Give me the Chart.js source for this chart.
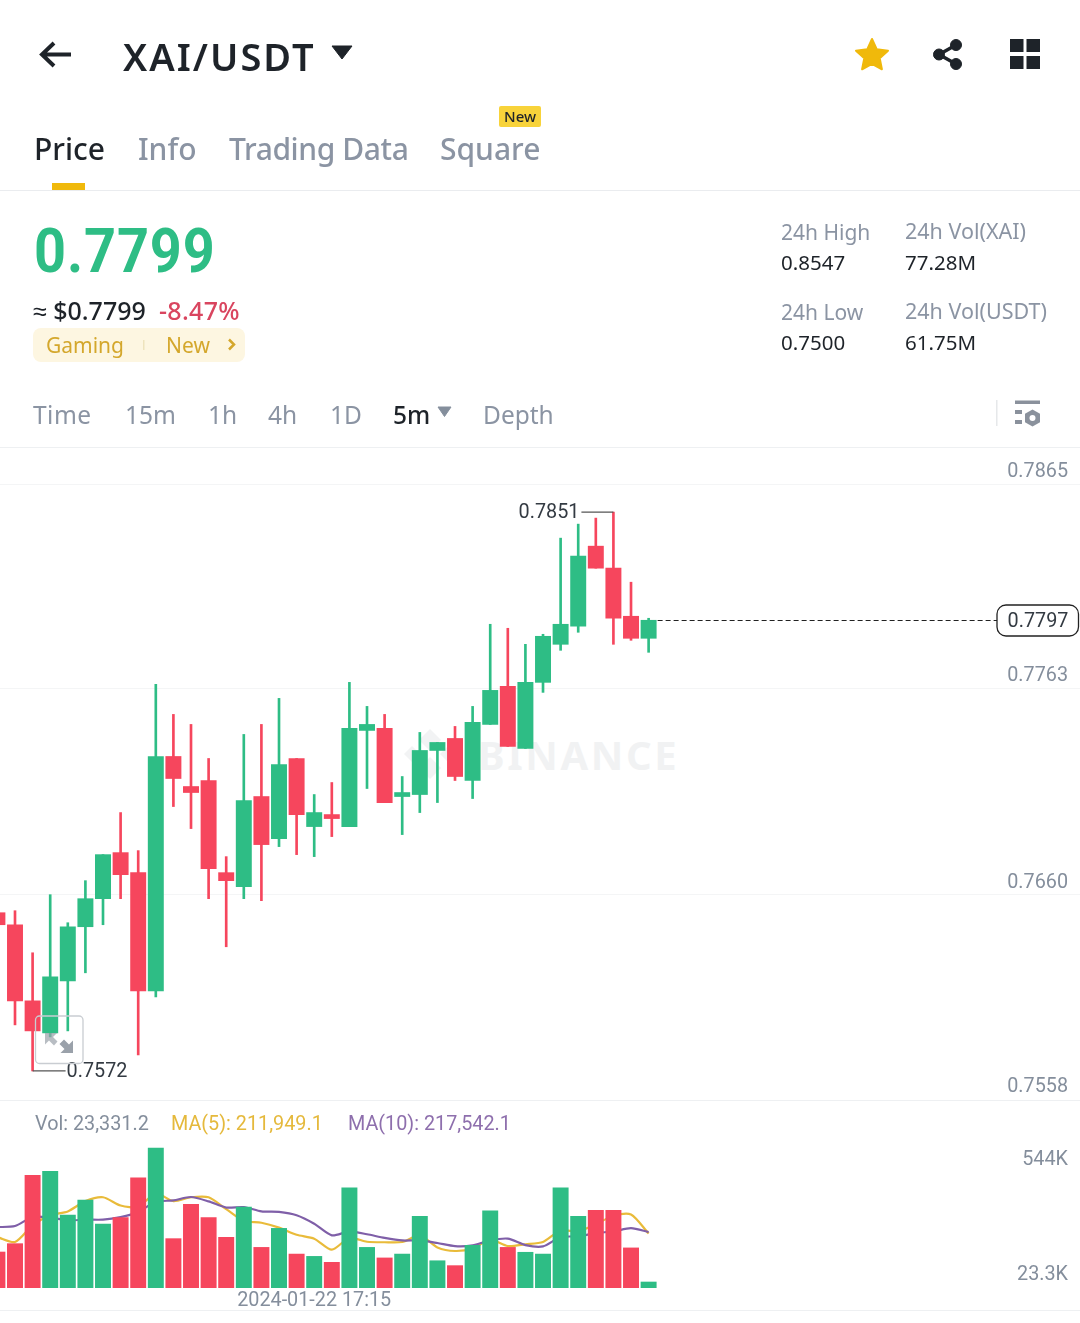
<!DOCTYPE html>
<html><head><meta charset="utf-8">
<script src="https://cdn.jsdelivr.net/npm/chart.js@4"></script>
<style>
html,body{margin:0;padding:0;background:#fff}
#root{position:relative;width:1080px;height:1323px;background:#fff;overflow:hidden}
.t{position:absolute;white-space:nowrap;line-height:1;transform:translateY(-50%);font-family:'Noto Sans',sans-serif}
.r{font-family:Roboto,sans-serif}
.g{color:#8b94a3}.d{color:#1e2329}
.hl{position:absolute;left:0;width:1080px;height:1px;background:#eef0f2}
canvas{position:absolute;left:0}
svg{position:absolute;left:0;top:0}
</style></head><body><div id="root">

<div class="hl" style="top:190px;background:#eaecef"></div>
<div class="hl" style="top:447px"></div>
<div class="hl" style="top:1100px"></div>
<div class="hl" style="top:1310px"></div>

<!-- watermark -->
<svg width="1080" height="1323" style="z-index:0">
 <g fill="#f2f3f4"><path d="M430 729l11 11-11 11-11-11z"/><path d="M412 746l8 8-8 8-8-8z"/><path d="M448 746l8 8-8 8-8-8z"/><path d="M430 757l11 11-11 11-11-11z"/></g>
</svg>
<span class="t" style="z-index:0;left:478px;top:755px;font-weight:700;font-size:40px;letter-spacing:2.6px;color:#f1f2f3">BINANCE</span>

<canvas id="priceChart" width="1080" height="652" style="top:447px;z-index:1"></canvas>
<canvas id="volChart" width="1080" height="223" style="top:1100px;z-index:1"></canvas>

<svg width="1080" height="1323" style="z-index:2;pointer-events:none">
 <!-- back arrow -->
 <path d="M71 54.500H42M54 43L42 54.500 54 66" fill="none" stroke="#1e2329" stroke-width="4"/>
 <path d="M332 46h20l-10 13z" fill="#1e2329" stroke="#1e2329" stroke-width="1" stroke-linejoin="round"/>
 <!-- star -->
 <path d="M872 39l4.800 10.300 11.200 1.400-8.300 7.600 2.200 11-9.900-5.500-9.900 5.500 2.200-11-8.300-7.600 11.200-1.400z" fill="#f0b90b" stroke="#f0b90b" stroke-width="2" stroke-linejoin="round"/>
 <!-- share -->
 <g fill="#1e2329" stroke="#1e2329"><circle cx="956" cy="45" r="5.500"/><circle cx="939" cy="54.500" r="5.500"/><circle cx="956" cy="64" r="5.500"/><path d="M956 45L939 54.500 956 64" fill="none" stroke-width="3.500"/></g>
 <!-- grid -->
 <g fill="#1e2329"><rect x="1010" y="39" width="13.500" height="13"/><rect x="1026.500" y="39" width="13.500" height="13"/><rect x="1010" y="56" width="13.500" height="13"/><rect x="1026.500" y="56" width="13.500" height="13"/></g>
 <!-- tab underline -->
 <rect x="52" y="183" width="33" height="7" fill="#f0b90b"/>
 <!-- badge -->
 <rect x="499" y="106" width="42" height="21" rx="2" fill="#f8d33a"/>
 <!-- tag -->
 <rect x="33" y="328" width="212" height="34" rx="8" fill="#fdf6e1"/>
 <rect x="143" y="340" width="1.500" height="10" fill="#eee3bd"/>
 <path d="M229 339.500l5 5-5 5" fill="none" stroke="#d4a72c" stroke-width="2.500"/>
 <!-- interval caret -->
 <path d="M438 407h13l-6.500 9.500z" fill="#848e9c" stroke="#848e9c" stroke-width="1" stroke-linejoin="round"/>
 <!-- settings -->
 <rect x="996" y="400" width="1.500" height="26" fill="#e6e8ea"/>
 <g fill="#8a919c"><rect x="1015" y="400.500" width="25" height="3.500"/><rect x="1015" y="410" width="7" height="4"/><rect x="1015" y="420" width="7" height="4"/>
 <path d="M1032.500 409.500l7.500 4.300v8.400l-7.500 4.300-7.500-4.300v-8.400z"/><circle cx="1032.500" cy="418" r="3" fill="#fff"/></g>
 <!-- expand icon -->
 <rect x="35.500" y="1016" width="47.500" height="47.500" rx="4" fill="none" stroke="#c9cdd2" stroke-width="1.300"/>
 <path d="M73 1053H60.500l4-4-5-5 4.500-4.500 5 5 4-4z" fill="#9aa1aa"/>
 <path d="M45 1033h12l-4 4 4.500 4.500-3.500 4-5-5-4 4z" fill="#9aa1aa" opacity=".7"/>
</svg>

<div style="position:absolute;left:0;top:0;z-index:3">
<span class="t d" style="left:123px;top:56px;font-size:38px;font-weight:600;letter-spacing:2px">XAI/USDT</span>
<span class="t d" style="left:34px;top:149px;font-size:30px;font-weight:500">Price</span>
<span class="t g" style="left:138px;top:149px;font-size:30px;font-weight:500">Info</span>
<span class="t g" style="left:229px;top:149px;font-size:30px;font-weight:500;letter-spacing:-.4px">Trading Data</span>
<span class="t g" style="left:440px;top:149px;font-size:30px;font-weight:500">Square</span>
<span class="t d" style="left:504px;top:116px;font-size:15px;font-weight:500">New</span>
<span class="t" style="left:34px;top:251px;font-size:62px;font-weight:700;font-family:Roboto;color:#2ebd85;letter-spacing:1px;transform:translateY(-50%) scaleX(.9);transform-origin:left center">0.7799</span>
<span class="t d" style="left:33px;top:310px;font-size:25px;font-weight:500">≈ $0.7799</span>
<span class="t" style="left:159px;top:310px;font-size:25px;font-weight:500;color:#d9455f;letter-spacing:.3px">-8.47%</span>
<span class="t" style="left:46px;top:345px;font-size:21px;color:#d4a72c">Gaming</span>
<span class="t" style="left:166px;top:345px;font-size:21px;color:#d4a72c">New</span>
<span class="t g" style="left:781px;top:232px;font-size:21px">24h High</span>
<span class="t d" style="left:781px;top:262px;font-size:20.500px">0.8547</span>
<span class="t g" style="left:905px;top:231px;font-size:21.500px">24h Vol(XAI)</span>
<span class="t d" style="left:905px;top:262px;font-size:20.500px">77.28M</span>
<span class="t g" style="left:781px;top:312px;font-size:21px">24h Low</span>
<span class="t d" style="left:781px;top:342px;font-size:20.500px">0.7500</span>
<span class="t g" style="left:905px;top:311px;font-size:21.500px">24h Vol(USDT)</span>
<span class="t d" style="left:905px;top:342px;font-size:20.500px">61.75M</span>
<span class="t g" style="left:33px;top:415px;font-size:24.500px;letter-spacing:.5px">Time</span>
<span class="t g" style="left:125px;top:415px;font-size:24.500px">15m</span>
<span class="t g" style="left:208px;top:415px;font-size:24.500px">1h</span>
<span class="t g" style="left:268px;top:415px;font-size:24.500px">4h</span>
<span class="t g" style="left:330px;top:415px;font-size:24.500px">1D</span>
<span class="t d" style="left:393px;top:415px;font-size:24.500px;font-weight:500">5m</span>
<span class="t g" style="left:483px;top:415px;font-size:24.500px">Depth</span>
<span class="t r" style="left:35px;top:1124px;font-size:19.800px;color:#848e9c">Vol: 23,331.2</span>
<span class="t r" style="left:171px;top:1124px;font-size:19.800px;color:#e5b93c">MA(5): 211,949.1</span>
<span class="t r" style="left:348px;top:1124px;font-size:19.800px;color:#8e6fad">MA(10): 217,542.1</span>
</div>

<script>
const times = ["15:45","15:50","15:55","16:00","16:05","16:10","16:15","16:20","16:25","16:30","16:35","16:40","16:45","16:50","16:55","17:00","17:05","17:10","17:15","17:20","17:25","17:30","17:35","17:40","17:45","17:50","17:55","18:00","18:05","18:10","18:15","18:20","18:25","18:30","18:35","18:40","18:45","18:50"];
const opens  = [.7651,.7645,.7607,.7591,.7617,.7644,.7658,.7681,.7671,.7612,.7729,.7714,.7717,.7671,.7664,.7709,.7688,.7728,.7694,.7700,.7694,.7742,.7743,.7709,.7710,.7732,.7738,.7717,.7745,.7764,.7733,.7766,.7785,.7794,.7834,.7823,.7799,.7788];
const closes = [.7645,.7607,.7592,.7619,.7644,.7658,.7680,.7670,.7612,.7729,.7718,.7711,.7673,.7667,.7707,.7685,.7725,.7700,.7701,.7698,.7743,.7745,.7706,.7711,.7732,.7736,.7719,.7746,.7762,.7734,.7766,.7789,.7795,.7829,.7823,.7798,.7788,.7797];
const highs  = [.7654,.7652,.7631,.7660,.7646,.7667,.7680,.7701,.7682,.7765,.7750,.7745,.7728,.7679,.7740,.7745,.7758,.7728,.7710,.7716,.7766,.7754,.7750,.7719,.7741,.7736,.7744,.7754,.7795,.7793,.7785,.7790,.7838,.7845,.7848,.7851,.7816,.7798];
const lows   = [.7642,.7595,.7572,.7589,.7592,.7621,.7645,.7658,.7580,.7609,.7704,.7693,.7658,.7634,.7658,.7657,.7684,.7680,.7679,.7689,.7694,.7713,.7706,.7690,.7701,.7706,.7717,.7708,.7745,.7734,.7733,.7761,.7782,.7791,.7823,.7785,.7787,.7781];
const volumes = [140,172.5,438,454,284,342,249,274,429,544,192,325.5,274,197,315,158,232,132,123,100,390,158,117,132,279,106,87,166,300,158,139,132,390,279,302,302,156,23.3];
const ma5  = [198,179,244,283,298,338,353,321,316,368,338,353,353,307,261,254,235,207,192,149,195,180,178,179,205,158,144,154,188,163,170,179,224,220,248,281,286,211.9];
const ma10 = [237,241,276,274,263,266,266,276,296,335,341,354,337,313,315,298,296,283,250,205,220,209,195,185,185,175,163,166,185,192,167,162,198,201,214,220,233,217.5];
const priceTicks = [0.7865,0.7763,0.7660,0.7558];
const volTicks = [544,23.3];
const volTickLabels = ["544K","23.3K"];
const dateLabel = "2024-01-22";
const timeTickIndex = 18;

const GREEN="#2ebd85", RED="#f6465d", GRID="#f4f5f6", LABEL="#848e9c";
const up = i => closes[i] >= opens[i];
const barColor = c => up(c.dataIndex) ? GREEN : RED;
const xRange = {type:"linear",min:0.1477,max:61.51,offset:false};
const xBase = {...xRange,
  afterBuildTicks:s=>{s.ticks=[{value:timeTickIndex}]},
  border:{display:false},
  grid:{color:GRID,drawTicks:false}
};
const fitY = s=>{s.width=0;s.paddingTop=0;s.paddingBottom=0};
const commonOpts = {responsive:false,animation:false,devicePixelRatio:1,
  layout:{padding:0,autoPadding:false},plugins:{legend:{display:false},tooltip:{enabled:false}}};

const overlay = {
  id:"overlay",
  afterDatasetsDraw(chart){
    const {ctx,scales:{x,y}}=chart;
    ctx.save();
    ctx.font="19.8px Roboto";ctx.textBaseline="middle";
    // high marker
    const hiV=Math.max(...highs),hiI=highs.indexOf(hiV),hx=x.getPixelForValue(hiI),hy=y.getPixelForValue(hiV);
    ctx.strokeStyle="#555";ctx.lineWidth=1.3;ctx.beginPath();ctx.moveTo(hx,hy);ctx.lineTo(hx-32,hy);ctx.stroke();
    ctx.fillStyle="#333a42";ctx.textAlign="right";ctx.fillText(hiV.toFixed(4),hx-34,hy+1);
    // low marker
    const loV=Math.min(...lows),loI=lows.indexOf(loV),lx=x.getPixelForValue(loI),ly=y.getPixelForValue(loV);
    ctx.beginPath();ctx.moveTo(lx,ly);ctx.lineTo(lx+33,ly);ctx.stroke();
    ctx.textAlign="left";ctx.fillText(loV.toFixed(4),lx+34,ly+1);
    // last price line + box
    const last=closes[closes.length-1],ey=Math.round(y.getPixelForValue(last))+.5,ex=x.getPixelForValue(closes.length-1)+9;
    ctx.strokeStyle="#222";ctx.lineWidth=1;ctx.setLineDash([5,3]);ctx.beginPath();ctx.moveTo(ex,ey);ctx.lineTo(997,ey);ctx.stroke();ctx.setLineDash([]);
    ctx.fillStyle="#fff";ctx.lineWidth=1.3;ctx.beginPath();ctx.roundRect(997,ey-15.5,81.5,31,9);ctx.fill();ctx.stroke();
    ctx.fillStyle="#333a42";ctx.textAlign="center";ctx.fillText(last.toFixed(4),1038,ey+2);
    ctx.restore();
  }
};

new Chart(document.getElementById("priceChart"),{
  type:"bar",
  plugins:[overlay],
  data:{datasets:[
    {label:"wick",grouped:false,barThickness:2,order:2,backgroundColor:barColor,
     data:times.map((t,i)=>({x:i,y:[lows[i],highs[i]]}))},
    {label:"body",grouped:false,barThickness:15.3,order:1,backgroundColor:barColor,
     data:times.map((t,i)=>({x:i,y:[opens[i],closes[i]]}))}
  ]},
  options:{...commonOpts,
    scales:{
      x:{...xBase,ticks:{display:false}},
      y:{type:"linear",position:"right",min:0.7558,max:0.78835,
        afterFit:fitY,
        afterBuildTicks:s=>{s.ticks=priceTicks.map(v=>({value:v}))},
        border:{display:false},grid:{color:GRID,drawTicks:false},
        ticks:{mirror:true,align:"near",padding:-12,color:LABEL,font:{family:"Roboto",size:19.8,lineHeight:"24px"},
          callback:v=>[Number(v).toFixed(4),""]}}
    }}
});

new Chart(document.getElementById("volChart"),{
  type:"bar",
  data:{datasets:[
    {type:"bar",label:"Vol",grouped:false,barThickness:15.3,order:1,backgroundColor:barColor,
     data:volumes.map((v,i)=>({x:i,y:v}))},
    {type:"line",label:"MA(5)",order:3,borderColor:"#e9bb3a",borderWidth:2.2,pointRadius:0,tension:.25,
     data:ma5.map((v,i)=>({x:i,y:v}))},
    {type:"line",label:"MA(10)",order:2,borderColor:"#7f5fa8",borderWidth:2.2,pointRadius:0,tension:.25,
     data:ma10.map((v,i)=>({x:i,y:v}))}
  ]},
  options:{...commonOpts,
    scales:{
      x:{...xBase,
        afterFit:s=>{s.height=35},
        grid:{display:false},
        ticks:{padding:-7,maxRotation:0,color:LABEL,font:{family:"Roboto",size:19.8},
          callback:v=>dateLabel+" "+times[v]}},
      y:{type:"linear",position:"right",min:0,max:731.5,
        afterFit:fitY,
        afterBuildTicks:s=>{s.ticks=volTicks.map(v=>({value:v}))},
        border:{display:false},grid:{display:false},
        ticks:{mirror:true,align:"near",padding:-12,color:LABEL,
          font:c=>({family:"Roboto",size:19.8,lineHeight:c.index===0?"24px":"14px"}),
          callback:v=>{const l=volTickLabels[volTicks.indexOf(v)];return v===volTicks[0]?["",l]:[l,""]}}}
    }}
});
</script>
</div></body></html>
